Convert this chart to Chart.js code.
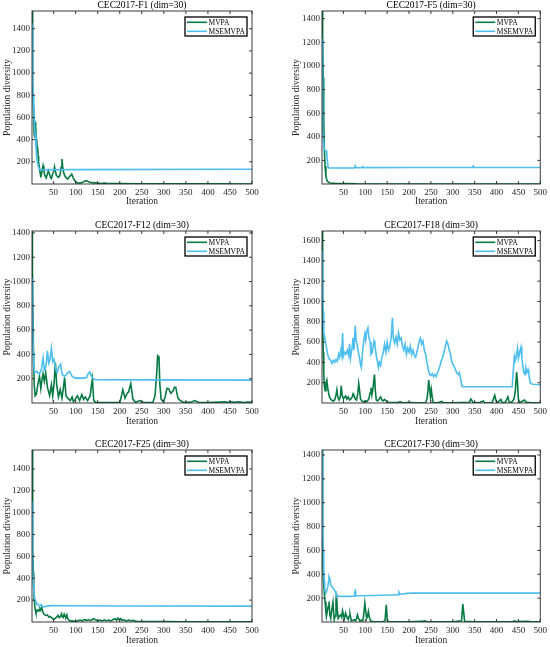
<!DOCTYPE html>
<html>
<head>
<meta charset="utf-8">
<script src="https://cdn.jsdelivr.net/npm/chart.js@4.4.1/dist/chart.umd.min.js"></script>
<style>
  html, body { margin: 0; padding: 0; background: #fff; }
  #wrap { position: relative; width: 550px; height: 647px; }
  .panel { position: absolute; }
</style>
</head>
<body>
<div id="wrap">
  <div class="panel" style="left:0;top:0;width:275px;height:215px"><canvas id="c1"></canvas></div>
  <div class="panel" style="left:275px;top:0;width:275px;height:215px"><canvas id="c2"></canvas></div>
  <div class="panel" style="left:0;top:215px;width:275px;height:215px"><canvas id="c3"></canvas></div>
  <div class="panel" style="left:275px;top:215px;width:275px;height:215px"><canvas id="c4"></canvas></div>
  <div class="panel" style="left:0;top:430px;width:275px;height:217px"><canvas id="c5"></canvas></div>
  <div class="panel" style="left:275px;top:430px;width:275px;height:217px"><canvas id="c6"></canvas></div>
</div>
<script>
// tick values
const xTicks = [50, 100, 150, 200, 250, 300, 350, 400, 450, 500];
const yTicks14 = [200, 400, 600, 800, 1000, 1200, 1400];
const yTicks16 = [200, 400, 600, 800, 1000, 1200, 1400, 1600];
const seriesNames = ['MVPA', 'MSEMVPA'];

// [iteration, diversity]
const f1Mvpa = [[1,1560],[2,1250],[3,900],[4,700],[5,560],[6,450],[7,420],[8,550],[9,555],[10,520],[11,400],[12,360],[13,330],[14,320],[15,250],[16,200],[18,140],[20,90],[21,60],[23,100],[26,165],[28,120],[30,80],[33,55],[36,90],[38,120],[41,85],[43,60],[45,50],[48,95],[50,110],[52,155],[54,120],[56,80],[58,70],[61,60],[63,70],[65,90],[67,150],[69,225],[71,140],[73,100],[76,70],[79,55],[82,45],[85,60],[88,75],[91,90],[94,60],[97,35],[100,20],[104,12],[108,8],[112,10],[116,15],[120,25],[124,30],[128,22],[132,15],[138,12],[144,10],[150,8],[158,5],[165,8],[172,5],[185,4],[200,3],[250,2],[300,1],[400,1],[500,0.5]];
const f1Msemvpa = [[1,1450],[2,1150],[3,950],[4,800],[5,680],[6,580],[8,460],[10,330],[12,220],[15,160],[18,132],[25,128],[100,130],[500,133]];

const f5Mvpa = [[1,1465],[2,1420],[3,1250],[4,900],[5,550],[6,330],[8,150],[10,60],[13,25],[16,14],[20,9],[30,6],[45,4],[60,3],[80,1],[500,0.5]];
const f5Msemvpa = [[1,1230],[2,600],[3,450],[4,375],[6,300],[8,285],[11,280],[12,240],[15,138],[20,136],[40,135],[75,136],[77,155],[79,138],[92,138],[94,148],[96,139],[200,140],[345,140],[347,152],[349,141],[500,140]];

const f12Mvpa = [[1,1416],[2,1100],[4,500],[6,150],[8,60],[11,75],[14,150],[18,220],[21,120],[24,200],[26,240],[29,180],[32,250],[36,130],[41,60],[45,150],[48,60],[51,160],[54,330],[57,150],[61,50],[65,110],[69,40],[72,120],[75,210],[78,60],[82,40],[88,20],[92,50],[95,10],[99,30],[104,60],[109,20],[114,70],[118,30],[122,50],[127,20],[133,60],[136,150],[138,200],[141,20],[146,5],[155,3],[180,3],[200,4],[204,60],[207,110],[212,40],[217,80],[220,90],[225,160],[230,30],[236,5],[245,20],[255,3],[265,3],[275,3],[280,60],[284,250],[286,390],[289,380],[291,150],[294,30],[299,10],[303,50],[307,120],[311,118],[316,80],[321,100],[324,130],[327,130],[332,40],[337,20],[345,5],[360,5],[370,20],[380,3],[400,3],[440,10],[445,3],[450,12],[460,5],[470,10],[480,3],[490,8],[500,5]];
const f12Msemvpa = [[1,1030],[2,800],[3,600],[4,420],[5,300],[7,250],[10,255],[12,260],[15,245],[18,240],[20,255],[22,270],[24,320],[26,370],[29,270],[31,280],[33,310],[36,430],[39,330],[42,360],[45,450],[48,340],[51,360],[54,300],[56,260],[58,250],[62,300],[66,320],[68,260],[70,230],[75,220],[79,235],[82,250],[86,260],[89,240],[92,220],[96,210],[100,205],[120,205],[125,210],[128,240],[132,255],[134,235],[136,220],[140,200],[145,192],[300,190],[500,188]];

const f18Mvpa = [[1,1694],[2,1200],[3,800],[4,500],[5,300],[6,180],[8,120],[10,200],[12,225],[14,150],[16,100],[18,60],[21,40],[24,25],[27,20],[30,30],[33,80],[35,130],[37,60],[40,30],[43,60],[45,170],[47,80],[50,40],[53,60],[55,70],[58,40],[61,60],[64,30],[67,40],[70,60],[72,90],[74,70],[77,40],[80,30],[83,100],[85,190],[87,120],[89,40],[92,20],[96,10],[100,20],[104,15],[108,40],[111,100],[113,150],[115,80],[117,130],[119,200],[121,280],[123,120],[125,30],[128,20],[132,40],[135,60],[138,30],[141,20],[144,35],[147,25],[150,8],[160,4],[175,6],[180,12],[185,3],[200,4],[220,3],[238,5],[241,40],[243,110],[245,225],[247,150],[249,60],[251,130],[253,60],[255,5],[265,3],[275,15],[278,3],[300,3],[320,4],[338,5],[341,40],[343,30],[346,8],[360,3],[370,20],[373,3],[390,4],[396,75],[399,20],[402,3],[410,35],[413,5],[420,4],[426,60],[429,10],[435,8],[440,40],[443,120],[446,305],[448,200],[450,40],[453,5],[460,20],[464,30],[468,8],[480,3],[500,3]];
const f18Msemvpa = [[1,1500],[2,1300],[3,1100],[4,900],[5,700],[7,650],[9,600],[11,550],[13,500],[15,460],[18,430],[21,420],[24,390],[27,420],[30,400],[33,430],[36,410],[39,480],[41,450],[44,520],[46,470],[48,690],[50,460],[53,500],[56,480],[59,520],[62,470],[64,580],[66,440],[69,520],[72,640],[74,520],[77,760],[79,620],[82,560],[84,500],[87,440],[89,380],[91,350],[93,470],[96,600],[99,680],[101,620],[103,700],[106,740],[108,650],[111,600],[113,480],[116,500],[118,560],[120,610],[122,570],[125,470],[128,400],[130,350],[132,400],[135,370],[138,450],[141,500],[144,580],[147,500],[150,600],[153,520],[156,560],[159,640],[162,840],[164,640],[167,590],[170,650],[173,580],[176,690],[179,620],[182,640],[185,560],[188,520],[191,580],[194,480],[197,540],[200,500],[203,560],[206,480],[209,520],[212,470],[215,450],[218,500],[221,560],[224,620],[226,640],[229,580],[232,610],[235,520],[238,480],[241,400],[244,330],[247,280],[250,270],[253,290],[256,260],[259,280],[262,260],[265,300],[268,330],[271,370],[274,420],[277,450],[280,500],[283,560],[286,610],[289,580],[292,520],[295,480],[297,420],[300,380],[303,360],[306,330],[309,300],[312,280],[315,300],[318,240],[321,165],[325,160],[436,160],[438,300],[441,460],[443,420],[446,480],[448,540],[450,440],[453,500],[456,550],[458,430],[460,380],[462,300],[465,280],[467,350],[469,300],[472,330],[474,280],[477,200],[482,185],[500,180]];

const f25Mvpa = [[1,1573],[2,1100],[3,700],[4,450],[5,300],[6,200],[8,120],[10,85],[12,95],[15,110],[17,100],[19,125],[21,115],[23,135],[25,100],[27,80],[30,65],[33,60],[36,65],[39,45],[42,50],[45,40],[48,30],[51,25],[54,35],[57,45],[60,60],[63,40],[66,55],[68,75],[70,45],[72,40],[74,70],[76,50],[78,45],[80,65],[82,30],[85,15],[90,10],[95,8],[100,5],[105,12],[110,18],[115,10],[120,22],[125,15],[130,20],[135,12],[140,30],[145,20],[150,12],[155,18],[160,10],[165,20],[170,12],[175,18],[180,10],[185,22],[190,30],[193,15],[196,35],[199,20],[202,30],[205,15],[210,20],[215,10],[220,18],[225,12],[230,15],[235,8],[240,5],[250,4],[270,3],[300,4],[350,2],[400,2],[500,2]];
const f25Msemvpa = [[1,1100],[2,700],[3,480],[4,350],[5,290],[6,250],[8,200],[10,180],[12,170],[14,160],[16,150],[18,148],[20,155],[22,160],[24,145],[27,138],[30,140],[35,145],[45,150],[80,148],[200,146],[500,145]];

const f30Mvpa = [[1,1442],[2,900],[3,550],[4,380],[5,300],[6,260],[8,170],[10,80],[11,47],[13,90],[15,130],[17,172],[19,60],[21,30],[23,90],[26,165],[28,60],[29,20],[31,50],[33,180],[34,236],[36,100],[38,30],[41,50],[44,60],[46,40],[48,94],[50,60],[52,25],[55,75],[58,40],[61,20],[63,50],[65,66],[67,30],[68,10],[72,15],[75,20],[78,10],[80,30],[82,60],[84,35],[88,8],[91,15],[94,10],[96,50],[99,158],[101,90],[103,30],[105,50],[107,88],[109,40],[113,5],[120,2],[140,2],[145,10],[148,144],[150,30],[152,2],[200,2],[230,5],[235,10],[240,4],[260,2],[300,2],[320,10],[323,150],[325,80],[327,5],[350,2],[400,2],[438,3],[441,10],[444,3],[470,5],[480,2],[500,2]];
const f30Msemvpa = [[1,1442],[2,1100],[3,800],[4,600],[5,450],[6,350],[7,290],[8,260],[10,250],[12,265],[14,290],[16,340],[17,380],[19,360],[21,310],[23,300],[25,290],[27,280],[29,270],[31,260],[33,235],[36,222],[40,215],[60,215],[75,216],[76,250],[77,260],[78,225],[80,220],[120,222],[175,228],[177,250],[179,236],[185,235],[195,240],[210,243],[500,242]];

const panels = [
  { id: 'c1', title: 'CEC2017-F1 (dim=30)',  mvpa: f1Mvpa,  msem: f1Msemvpa,  yMax: 1560, yTicks: yTicks14, col: 0, row: 0 },
  { id: 'c2', title: 'CEC2017-F5 (dim=30)',  mvpa: f5Mvpa,  msem: f5Msemvpa,  yMax: 1465, yTicks: yTicks14, col: 1, row: 0 },
  { id: 'c3', title: 'CEC2017-F12 (dim=30)', mvpa: f12Mvpa, msem: f12Msemvpa, yMax: 1416, yTicks: yTicks14, col: 0, row: 1 },
  { id: 'c4', title: 'CEC2017-F18 (dim=30)', mvpa: f18Mvpa, msem: f18Msemvpa, yMax: 1694, yTicks: yTicks16, col: 1, row: 1 },
  { id: 'c5', title: 'CEC2017-F25 (dim=30)', mvpa: f25Mvpa, msem: f25Msemvpa, yMax: 1573, yTicks: yTicks14, col: 0, row: 2 },
  { id: 'c6', title: 'CEC2017-F30 (dim=30)', mvpa: f30Mvpa, msem: f30Msemvpa, yMax: 1442, yTicks: yTicks14, col: 1, row: 2 }
];

// layout per column / row (pixels inside each panel canvas)
const colLayout = [ { padL: 0, padR: 23, yw: 32 }, { padL: 14, padR: 9, yw: 33 } ];
const rowLayout = [ { padT: 11, xh: 31, tb: 7.5 }, { padT: 16, xh: 27, tb: 2.5 }, { padT: 20, xh: 25, tb: 0.5 } ];

const GREEN = '#067A44';
const BLUE = '#4DBEEE';
const AXIS = '#262626';

Chart.defaults.font.family = '"Liberation Serif", "Times New Roman", serif';
Chart.defaults.color = AXIS;

// matlab-like box, inward ticks, title and legend
const matlabFrame = {
  id: 'matlabFrame',
  afterDatasetsDraw(chart, args, opts) {
    const { ctx, chartArea: a, scales } = chart;
    ctx.save();
    ctx.strokeStyle = AXIS;
    ctx.lineWidth = 0.9;
    ctx.strokeRect(a.left, a.top, a.right - a.left, a.bottom - a.top);
    ctx.beginPath();
    scales.x.ticks.forEach(t => {
      const px = scales.x.getPixelForValue(t.value);
      ctx.moveTo(px, a.bottom); ctx.lineTo(px, a.bottom - 3);
      ctx.moveTo(px, a.top); ctx.lineTo(px, a.top + 3);
    });
    scales.y.ticks.forEach(t => {
      const py = scales.y.getPixelForValue(t.value);
      ctx.moveTo(a.left, py); ctx.lineTo(a.left + 3, py);
      ctx.moveTo(a.right, py); ctx.lineTo(a.right - 3, py);
    });
    ctx.stroke();

    // title
    ctx.fillStyle = '#000';
    ctx.font = '9.5px "Liberation Serif"';
    ctx.textAlign = 'center';
    ctx.textBaseline = 'bottom';
    ctx.fillText(opts.text, (a.left + a.right) / 2, a.top - 0.5);

    // legend
    const bw = 62, bh = 19;
    const bx = a.right - 5 - bw, by = a.top + 6;
    ctx.fillStyle = '#fff';
    ctx.fillRect(bx, by, bw, bh);
    ctx.strokeStyle = '#000';
    ctx.lineWidth = 1.3;
    ctx.strokeRect(bx, by, bw, bh);
    ctx.font = '7.5px "Liberation Serif"';
    ctx.textAlign = 'left';
    ctx.textBaseline = 'middle';
    chart.data.datasets.forEach((ds, i) => {
      const ry = by + 5.3 + i * 9;
      ctx.strokeStyle = ds.borderColor;
      ctx.lineWidth = 1.6;
      ctx.beginPath();
      ctx.moveTo(bx + 2, ry); ctx.lineTo(bx + 22, ry);
      ctx.stroke();
      ctx.fillStyle = '#000';
      ctx.fillText(ds.label, bx + 23.5, ry + 0.5);
    });
    ctx.restore();
  }
};

const toXY = arr => arr.map(p => ({ x: p[0], y: p[1] }));

panels.forEach(p => {
  const cl = colLayout[p.col];
  const rl = rowLayout[p.row];
  new Chart(document.getElementById(p.id), {
    type: 'line',
    data: {
      datasets: [
        { label: seriesNames[0], data: toXY(p.mvpa), borderColor: GREEN, borderWidth: 1.6, pointRadius: 0, tension: 0, order: 1 },
        { label: seriesNames[1], data: toXY(p.msem), borderColor: BLUE, borderWidth: 1.6, pointRadius: 0, tension: 0, order: 0 }
      ]
    },
    options: {
      responsive: true,
      maintainAspectRatio: false,
      animation: false,
      events: [],
      layout: { padding: { left: cl.padL, right: cl.padR, top: rl.padT, bottom: 0 } },
      scales: {
        x: {
          type: 'linear', min: 1, max: 500,
          afterBuildTicks: s => { s.ticks = xTicks.map(v => ({ value: v })); },
          afterFit: s => { s.height = rl.xh; },
          grid: { display: false, drawTicks: false },
          border: { display: false },
          ticks: { padding: 3, autoSkip: false, maxRotation: 0, font: { size: 9 }, callback: v => String(v) },
          title: { display: true, text: 'Iteration', font: { size: 9.5 }, padding: { top: 0, bottom: rl.tb } }
        },
        y: {
          type: 'linear', min: 0, max: p.yMax,
          afterBuildTicks: s => { s.ticks = p.yTicks.map(v => ({ value: v })); },
          afterFit: s => { s.width = cl.yw; },
          grid: { display: false, drawTicks: false },
          border: { display: false },
          ticks: { padding: 2, autoSkip: false, font: { size: 9 }, callback: v => String(v) },
          title: { display: true, text: 'Population diversity', font: { size: 9.5 }, padding: { top: 1.5, bottom: 0 } }
        }
      },
      plugins: {
        legend: { display: false },
        tooltip: { enabled: false },
        matlabFrame: { text: p.title }
      }
    },
    plugins: [matlabFrame]
  });
});
</script>
</body>
</html>
